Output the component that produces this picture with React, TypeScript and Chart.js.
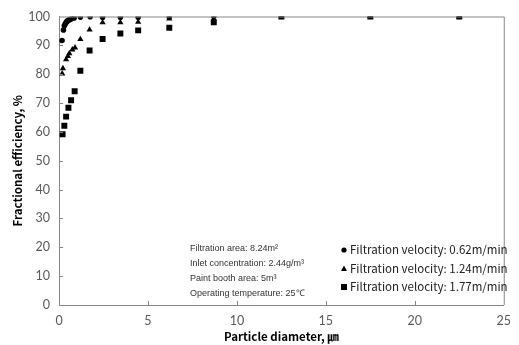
import React, { useEffect, useRef } from "react";
import { Chart, registerables } from "chart.js";

Chart.register(...registerables);

// Particle diameter (µm) and fractional efficiency (%) per filtration velocity
const xV062 = [0.17, 0.25, 0.3, 0.35, 0.4, 0.45, 0.5, 0.6, 0.7, 0.85, 1.2, 1.75, 2.45, 3.45, 4.45, 6.2, 8.7, 12.5, 17.5, 22.5];
const yV062 = [91.7, 95.3, 96.8, 97.4, 97.9, 98.3, 98.6, 98.9, 99.2, 99.5, 99.8, 99.9, 99.7, 99.7, 99.7, 99.8, 100, 100, 100, 100];

const xV124 = [0.18, 0.22, 0.4, 0.5, 0.58, 0.75, 0.9, 1.2, 1.72, 2.45, 3.45, 4.45, 6.2, 8.7, 12.5, 17.5, 22.5];
const yV124 = [80.2, 82.0, 85.1, 86.2, 87.2, 88.5, 89.2, 92.1, 95.4, 97.9, 97.9, 98.1, 99.2, 99.0, 100, 100, 100];

const xV177 = [0.2, 0.3, 0.4, 0.53, 0.68, 0.88, 1.2, 1.72, 2.45, 3.45, 4.45, 6.2, 8.7, 12.5, 17.5, 22.5];
const yV177 = [59.2, 62.1, 65.3, 68.4, 71.0, 74.1, 81.2, 88.2, 92.2, 94.1, 95.2, 96.1, 98.0, 100, 100, 100];

const seriesLabels = [
  "Filtration velocity: 0.62m/min",
  "Filtration velocity: 1.24m/min",
  "Filtration velocity: 1.77m/min",
];
const pointStyles = ["circle", "triangle", "rect"];
const pointSizes = [2.8, 3.6, 4.2];

const noteLines = [
  "Filtration area: 8.24m\u00B2",
  "Inlet concentration: 2.44g/m\u00B3",
  "Paint booth area: 5m\u00B3",
  "Operating temperature: 25\u2103",
];

const xTitle = "Particle diameter, \u339B";
const yTitle = "Fractional efficiency, %";

const xMin = 0, xMax = 25, xStep = 5;
const yMin = 0, yMax = 100, yStep = 10;

const toPts = (xs: number[], ys: number[]) => xs.map((x, i) => ({ x, y: ys[i] }));

const AXIS_COLOR = "#868686";
const TICK_COLOR = "#595959";

const extrasPlugin = {
  id: "extras",
  afterDraw(chart: any) {
    const { ctx, chartArea } = chart;
    const xs = chart.scales.x;
    const ys = chart.scales.y;
    ctx.save();
    // top & right border
    ctx.strokeStyle = AXIS_COLOR;
    ctx.lineWidth = 1;
    ctx.beginPath();
    ctx.moveTo(chartArea.left, chartArea.top + 0.5);
    ctx.lineTo(chartArea.right + 0.5, chartArea.top + 0.5);
    ctx.lineTo(chartArea.right + 0.5, chartArea.bottom);
    ctx.stroke();
    // inward tick marks
    ctx.beginPath();
    for (let v = xMin + xStep; v < xMax; v += xStep) {
      const px = Math.round(xs.getPixelForValue(v)) + 0.5;
      ctx.moveTo(px, chartArea.bottom);
      ctx.lineTo(px, chartArea.bottom - 4);
    }
    for (let v = yMin + yStep; v < yMax; v += yStep) {
      const py = Math.round(ys.getPixelForValue(v)) + 0.5;
      ctx.moveTo(chartArea.left, py);
      ctx.lineTo(chartArea.left + 4, py);
    }
    ctx.stroke();

    // axis titles
    ctx.fillStyle = "#000";
    ctx.font = "bold 11.5px 'Noto Sans CJK KR'";
    ctx.textAlign = "center";
    ctx.textBaseline = "middle";
    ctx.fillText(xTitle, (chartArea.left + chartArea.right) / 2, 337);
    ctx.save();
    ctx.translate(18, (chartArea.top + chartArea.bottom) / 2);
    ctx.rotate(-Math.PI / 2);
    ctx.fillText(yTitle, 0, 0);
    ctx.restore();

    // note text
    ctx.fillStyle = "#333";
    ctx.font = "9px 'Liberation Sans'";
    ctx.textAlign = "left";
    noteLines.forEach((t, i) => ctx.fillText(t, 190, 249 + i * 15));

    // legend
    ctx.font = "11.5px 'Noto Sans CJK KR'";
    chart.data.datasets.forEach((ds: any, i: number) => {
      const cy = 250 + i * 18.5;
      const cx = 344;
      ctx.fillStyle = "#000";
      ctx.beginPath();
      if (i === 0) {
        ctx.arc(cx, cy, 2.6, 0, Math.PI * 2);
      } else if (i === 1) {
        ctx.moveTo(cx, cy - 3);
        ctx.lineTo(cx + 3, cy + 2.5);
        ctx.lineTo(cx - 3, cy + 2.5);
        ctx.closePath();
      } else {
        ctx.rect(cx - 3, cy - 3, 6, 6);
      }
      ctx.fill();
      ctx.fillStyle = "#222";
      ctx.fillText(ds.label, 350, cy);
    });
    ctx.restore();
  },
};

export default function App() {
  const ref = useRef<HTMLCanvasElement>(null);
  useEffect(() => {
    if (!ref.current) return;
    const data = [toPts(xV062, yV062), toPts(xV124, yV124), toPts(xV177, yV177)];
    const chart = new Chart(ref.current, {
      type: "scatter",
      data: {
        datasets: data.map((d, i) => ({
          label: seriesLabels[i],
          data: d,
          pointStyle: pointStyles[i] as any,
          pointRadius: pointSizes[i],
          backgroundColor: "#000",
          borderColor: "#000",
          borderWidth: 0,
          showLine: false,
        })),
      },
      options: {
        animation: false,
        responsive: true,
        maintainAspectRatio: false,
        layout: { padding: { top: 15, right: 9, left: 0, bottom: 0 } },
        plugins: { legend: { display: false }, tooltip: { enabled: false } },
        scales: {
          x: {
            type: "linear",
            min: xMin,
            max: xMax,
            afterFit: (s: any) => { s.height = 40; },
            ticks: { stepSize: xStep, color: TICK_COLOR, font: { family: "Lato", size: 12.5 }, padding: 8 },
            grid: { display: false, drawTicks: false },
            border: { display: true, color: AXIS_COLOR, width: 1 },
          },
          y: {
            type: "linear",
            min: yMin,
            max: yMax,
            afterFit: (s: any) => { s.width = 59; },
            ticks: { stepSize: yStep, color: TICK_COLOR, font: { family: "Lato", size: 12.5 }, padding: 9 },
            grid: { display: false, drawTicks: false },
            border: { display: true, color: AXIS_COLOR, width: 1 },
          },
        },
      },
      plugins: [extrasPlugin],
    });
    return () => chart.destroy();
  }, []);
  return (
    <div style={{ position: "fixed", left: 0, top: 0, width: 519, height: 345, background: "#fff" }}>
      <canvas ref={ref} />
    </div>
  );
}
